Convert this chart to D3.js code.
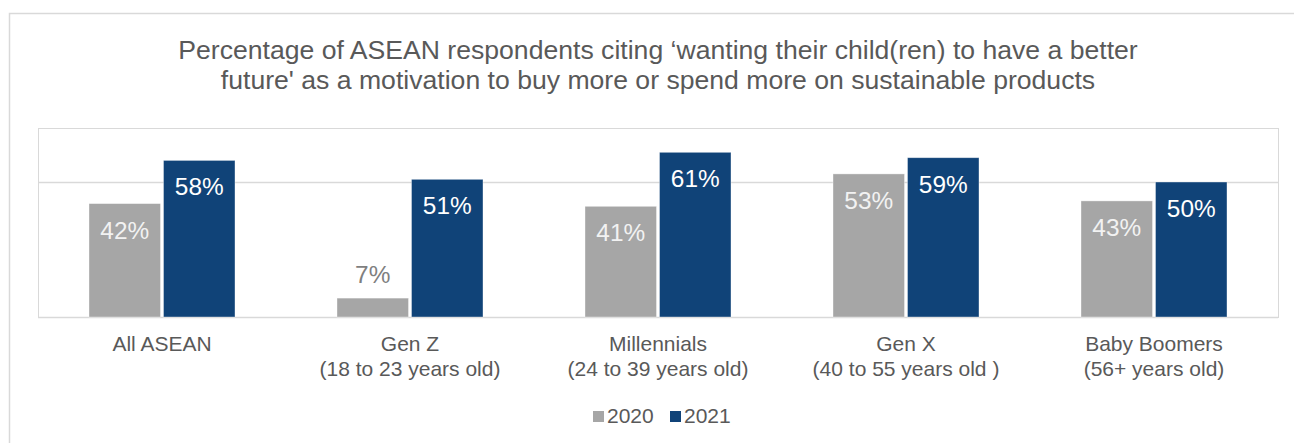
<!DOCTYPE html>
<html>
<head>
<meta charset="utf-8">
<script src="https://cdn.jsdelivr.net/npm/d3@7"></script>
<style>
  body { margin: 0; background: #fff; }
  text { font-family: Arial, "Liberation Sans", sans-serif; }
</style>
</head>
<body>
<div class="plot"></div>
<script>
// Chart data
const categories = ["All ASEAN", "Gen Z", "Millennials", "Gen X", "Baby Boomers"];
const categoryLines = [
    ["All ASEAN"],
    ["Gen Z", "(18 to 23 years old)"],
    ["Millennials", "(24 to 39 years old)"],
    ["Gen X", "(40 to 55 years old )"],
    ["Baby Boomers", "(56+ years old)"]
];
const series = ["2020", "2021"];
const values2020 = [42, 7, 41, 53, 43];
const values2021 = [58, 51, 61, 59, 50];
const gridValues = [0, 50];
const titleLines = [
    "Percentage of ASEAN respondents citing \u2018wanting their child(ren) to have a better",
    "future' as a motivation to buy more or spend more on sustainable products"
];

const colors = {"2020": "#a6a6a6", "2021": "#104378"};
const W = 1294, H = 443;
const plot = {left: 38, right: 1278, top: 128, bottom: 317};

const svg = d3.select(".plot")
    .append("svg")
        .attr("width", W)
        .attr("height", H);

// outer chart border (runs off the right and bottom)
svg.append("rect")
    .attr("x", 9.5).attr("y", 13.5)
    .attr("width", W + 20).attr("height", H + 20)
    .attr("fill", "none")
    .attr("stroke", "#d9d9d9")
    .attr("stroke-width", 1.5);

// title
svg.append("text")
    .attr("text-anchor", "middle")
    .attr("fill", "#595959")
    .style("font-size", "26.6px")
    .selectAll("tspan")
    .data(titleLines)
    .enter()
    .append("tspan")
        .attr("x", 658)
        .attr("y", (d, i) => 59 + i * 29.5)
        .text(d => d);

// scales
const x0 = d3.scaleBand()
    .domain(categories)
    .range([plot.left, plot.right]);

const groupW = 146;
const x1 = d3.scaleBand()
    .domain(series)
    .range([0, groupW])
    .paddingInner(0.04);

const y = d3.scaleLinear()
    .domain([0, 70])
    .range([plot.bottom, plot.top]);

// plot area border + gridlines
svg.append("rect")
    .attr("x", plot.left + 0.5).attr("y", y(70) + 0.5)
    .attr("width", plot.right - plot.left).attr("height", y(0) - y(70))
    .attr("fill", "none")
    .attr("stroke", "#d9d9d9")
    .attr("stroke-width", 1);

svg.append("g")
    .selectAll("line")
    .data(gridValues)
    .enter()
    .append("line")
        .attr("x1", plot.left).attr("x2", plot.right)
        .attr("y1", d => Math.round(y(d)) + 0.5)
        .attr("y2", d => Math.round(y(d)) + 0.5)
        .attr("stroke", "#d9d9d9")
        .attr("stroke-width", 1.5);

// build rows for bars
const rows = [];
categories.forEach((c, i) => {
    rows.push({cat: c, s: "2020", v: values2020[i]});
    rows.push({cat: c, s: "2021", v: values2021[i]});
});

const barX = d => x0(d.cat) + x0.bandwidth() / 2 - groupW / 2 + x1(d.s);

svg.append("g")
    .selectAll("rect")
    .data(rows)
    .enter()
    .append("rect")
        .attr("x", barX)
        .attr("y", d => y(d.v))
        .attr("width", x1.bandwidth())
        .attr("height", d => y(0) - y(d.v))
        .attr("fill", d => colors[d.s])
        .attr("stroke", "#ffffff")
        .attr("stroke-opacity", 0.5)
        .attr("stroke-width", 0.75);

// data labels: inside end, or above the bar when it is too short
svg.append("g")
    .selectAll("text")
    .data(rows)
    .enter()
    .append("text")
        .attr("x", d => barX(d) + x1.bandwidth() / 2)
        .attr("y", d => (y(0) - y(d.v) > 40) ? y(d.v) + 35 : y(d.v) - 15)
        .attr("text-anchor", "middle")
        .style("font-size", "24.4px")
        .attr("fill", d => (y(0) - y(d.v) > 40) ? (d.s === "2020" ? "#f2f2f2" : "#ffffff") : "#7f7f7f")
        .text(d => d.v + "%");

// category labels
const catG = svg.append("g")
    .selectAll("text")
    .data(categories)
    .enter()
    .append("text")
        .attr("text-anchor", "middle")
        .attr("fill", "#595959")
        .style("font-size", "21px");

catG.selectAll("tspan")
    .data((d, i) => categoryLines[i].map(t => ({cat: d, t: t})))
    .enter()
    .append("tspan")
        .attr("x", d => x0(d.cat) + x0.bandwidth() / 2)
        .attr("y", (d, j) => 351 + j * 25)
        .text(d => d.t);

// legend
const legend = svg.append("g");
const legendX = [593, 670];
series.forEach((s, i) => {
    legend.append("rect")
        .attr("x", legendX[i]).attr("y", 411)
        .attr("width", 11).attr("height", 11)
        .attr("fill", colors[s]);
    legend.append("text")
        .attr("x", legendX[i] + 14).attr("y", 422.5)
        .attr("fill", "#595959")
        .style("font-size", "21px")
        .text(s);
});
</script>
</body>
</html>
